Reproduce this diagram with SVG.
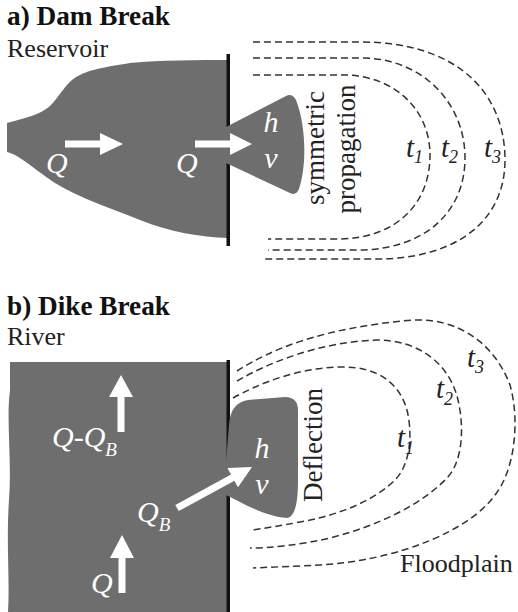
<svg xmlns="http://www.w3.org/2000/svg" width="518" height="612" viewBox="0 0 518 612">
<style>
.water{fill:#6e6e6e;stroke:none}
.wall{fill:#111}
.arrow{fill:#fff}
.front{fill:none;stroke:#333;stroke-width:1.5;stroke-dasharray:7 4}
.title{font-family:"Liberation Serif","Times New Roman",Times,serif;font-weight:bold;font-size:27px;fill:#111}
.lbl{font-family:"Liberation Serif","Times New Roman",Times,serif;font-size:26px;fill:#222}
.rot{font-family:"Liberation Serif","Times New Roman",Times,serif;font-size:27px;fill:#222}
.wl{font-family:"Liberation Serif","Times New Roman",Times,serif;font-style:italic;font-size:30px;fill:#fff}
.ws{font-family:"Liberation Serif","Times New Roman",Times,serif;font-style:italic;font-size:19px;fill:#fff}
.tl{font-family:"Liberation Serif","Times New Roman",Times,serif;font-style:italic;font-size:29px;fill:#222}
.ts{font-family:"Liberation Serif","Times New Roman",Times,serif;font-style:italic;font-size:18px;fill:#222}
</style>
<rect width="518" height="612" fill="#fff"/>
<g id="panel-a">
  <text class="title" x="7" y="25" textLength="163" lengthAdjust="spacingAndGlyphs">a) Dam Break</text>
  <text class="lbl" x="7" y="57">Reservoir</text>
  <g id="reservoir">
    <path class="water" d="M7,123 C25,118 40,115 50,106 C58,98 63,88 72,80 C85,70 100,68 130,63 C160,60 200,60 228,60 L228,238 C200,237 170,232 140,220 C110,208 80,198 55,183 C35,170 20,155 7,152 Z"/>
  </g>
  <g id="dam">
    <rect class="wall" x="226.5" y="54" width="3.5" height="73"/>
    <rect class="wall" x="226.5" y="162" width="3.5" height="84"/>
  </g>
  <g id="jet-a">
    <path class="water" d="M226,127 L286,96 Q292,93 296,100 C306,125 307,165 299,189 Q296,196 290,193 L226,163 Z"/>
    <text class="wl" x="271" y="132" text-anchor="middle">h</text>
    <text class="wl" x="271" y="168" text-anchor="middle">v</text>
  </g>
  <g id="flow-a">
    <path class="arrow" d="M65,140.5 L100,140.5 L100,133 L123,144 L100,155 L100,147.5 L65,147.5 Z"/>
    <text class="wl" x="46" y="173">Q</text>
    <path class="arrow" d="M195,140.5 L230,140.5 L230,133 L252,144 L230,155 L230,147.5 L195,147.5 Z"/>
    <text class="wl" x="176" y="173">Q</text>
  </g>
  <g id="fronts-a">
    <path class="front" d="M253,75 L345,75 C395,76 430,110 430,155 C430,205 395,238 340,239 L268,239"/>
    <path class="front" d="M253,58 L365,58 C425,60 465,105 465,158 C465,212 425,249 360,250 L268,250"/>
    <path class="front" d="M253,42 L360,42 C460,42 505,95 505,160 C505,222 455,258 380,259 L265,259"/>
  </g>
  <g id="labels-a">
    <text class="rot" transform="translate(324,148) rotate(-90)" text-anchor="middle">symmetric</text>
    <text class="rot" transform="translate(355,149) rotate(-90)" text-anchor="middle">propagation</text>
    <text x="406" y="157"><tspan class="tl">t</tspan><tspan class="ts" dy="6">1</tspan></text>
    <text x="441" y="157"><tspan class="tl">t</tspan><tspan class="ts" dy="6">2</tspan></text>
    <text x="484" y="157"><tspan class="tl">t</tspan><tspan class="ts" dy="6">3</tspan></text>
  </g>
</g>
<g id="panel-b">
  <text class="title" x="7" y="315" textLength="163" lengthAdjust="spacingAndGlyphs">b) Dike Break</text>
  <text class="lbl" x="7" y="345">River</text>
  <g id="river">
    <path class="water" d="M10,362 L228,362 L228,612 L8,612 C10,580 6,540 9,500 C12,460 6,420 10,390 Z"/>
  </g>
  <g id="dike">
    <rect class="wall" x="226.5" y="360" width="3.5" height="102"/>
    <rect class="wall" x="226.5" y="495" width="3.5" height="117"/>
  </g>
  <g id="jet-b">
    <path class="water" d="M226,462 L229,425 C230,410 236,402 248,400 L285,397 C294,397 298,402 298,410 L298,480 C298,500 296,515 288,518 C275,518 255,510 240,502 L226,495 Z"/>
    <text class="wl" x="262" y="458" text-anchor="middle">h</text>
    <text class="wl" x="262" y="494" text-anchor="middle">v</text>
  </g>
  <g id="flow-b">
    <path class="arrow" d="M117.5,432 L117.5,397 L109,397 L121,375 L133,397 L124.5,397 L124.5,432 Z"/>
    <text x="52" y="447"><tspan class="wl">Q-Q</tspan><tspan class="ws" dy="9">B</tspan></text>
    <path class="arrow" d="M175.3,504.9 L231,474.5 L227.4,468 L252,467 L238,487.2 L234.4,480.7 L178.7,511.1 Z"/>
    <text x="137" y="522"><tspan class="wl">Q</tspan><tspan class="ws" dy="9">B</tspan></text>
    <path class="arrow" d="M118.5,593 L118.5,558 L110,558 L122,535 L134,558 L125.5,558 L125.5,593 Z"/>
    <text class="wl" x="91" y="593">Q</text>
  </g>
  <g id="fronts-b">
    <path class="front" d="M233,398 C260,383 300,367 343,367 C380,367 400,385 407,410 C413,435 410,465 395,480 C375,500 340,515 300,522 C280,526 265,528 253,530"/>
    <path class="front" d="M237,381 C270,362 320,342 377,340 C420,340 450,365 458,400 C465,430 462,465 445,480 C420,505 380,525 330,538 C300,545 270,548 250,548"/>
    <path class="front" d="M237,371 C270,350 320,328 413,320 C460,318 495,345 510,385 C520,420 515,470 495,495 C470,530 400,560 320,565 L253,568"/>
  </g>
  <g id="labels-b">
    <text class="rot" transform="translate(322,445) rotate(-90)" text-anchor="middle">Deflection</text>
    <text class="lbl" x="400" y="572">Floodplain</text>
    <text x="397" y="447"><tspan class="tl">t</tspan><tspan class="ts" dy="7">1</tspan></text>
    <text x="436" y="398"><tspan class="tl">t</tspan><tspan class="ts" dy="7">2</tspan></text>
    <text x="467" y="367"><tspan class="tl">t</tspan><tspan class="ts" dy="6">3</tspan></text>
  </g>
</g>
</svg>
